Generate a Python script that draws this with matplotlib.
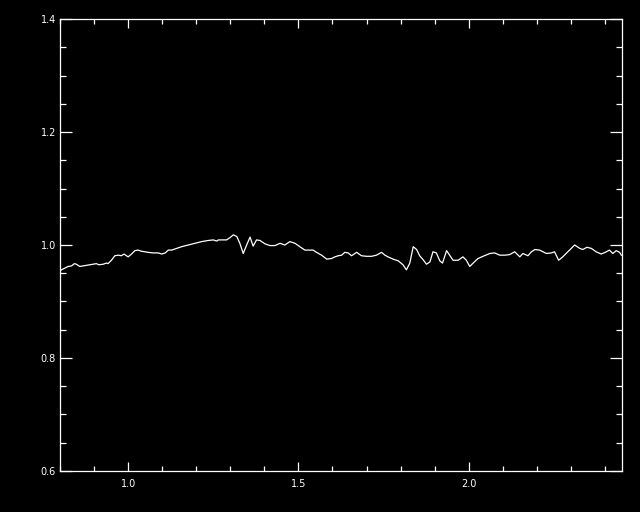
import matplotlib
matplotlib.use("Agg")
import matplotlib.pyplot as plt
from matplotlib.ticker import MultipleLocator

wavelength = [0.800, 0.804, 0.814, 0.824, 0.834, 0.842, 0.848, 0.858, 0.868, 0.888,
              0.907, 0.914, 0.927, 0.936, 0.941, 0.951, 0.961, 0.971, 0.980, 0.988,
              1.000, 1.010, 1.020, 1.029, 1.039, 1.049, 1.059, 1.073, 1.088, 1.099,
              1.109, 1.118, 1.128, 1.138, 1.148, 1.157, 1.177, 1.196, 1.216, 1.235,
              1.250, 1.260, 1.265, 1.275, 1.289, 1.299, 1.309, 1.319, 1.328, 1.338,
              1.348, 1.358, 1.367, 1.377, 1.387, 1.402, 1.416, 1.431, 1.446, 1.460,
              1.475, 1.490, 1.504, 1.519, 1.543, 1.553, 1.568, 1.583, 1.597, 1.607,
              1.617, 1.627, 1.636, 1.646, 1.656, 1.671, 1.685, 1.700, 1.715, 1.729,
              1.744, 1.754, 1.763, 1.778, 1.793, 1.807, 1.817, 1.827, 1.837, 1.847,
              1.856, 1.866, 1.876, 1.886, 1.895, 1.905, 1.915, 1.923, 1.935, 1.944,
              1.954, 1.969, 1.983, 1.993, 2.003, 2.013, 2.027, 2.042, 2.062, 2.076,
              2.091, 2.106, 2.120, 2.135, 2.150, 2.159, 2.174, 2.184, 2.194, 2.208,
              2.228, 2.243, 2.252, 2.264, 2.276, 2.291, 2.311, 2.326, 2.335, 2.347,
              2.360, 2.374, 2.389, 2.404, 2.413, 2.423, 2.433, 2.443, 2.448]

ratio = [0.954, 0.956, 0.959, 0.962, 0.963, 0.967, 0.966, 0.962, 0.963, 0.965,
         0.967, 0.965, 0.966, 0.968, 0.967, 0.973, 0.981, 0.982, 0.981, 0.984,
         0.979, 0.984, 0.990, 0.991, 0.989, 0.988, 0.987, 0.986, 0.986, 0.984,
         0.986, 0.991, 0.991, 0.993, 0.995, 0.997, 1.000, 1.003, 1.006, 1.008,
         1.009, 1.007, 1.009, 1.009, 1.009, 1.013, 1.018, 1.015, 1.003, 0.985,
         1.000, 1.014, 0.998, 1.009, 1.008, 1.002, 0.999, 0.999, 1.003, 1.000,
         1.006, 1.003, 0.997, 0.991, 0.991, 0.987, 0.982, 0.975, 0.976, 0.979,
         0.981, 0.982, 0.987, 0.986, 0.981, 0.987, 0.981, 0.980, 0.980, 0.982,
         0.987, 0.982, 0.979, 0.975, 0.972, 0.965, 0.956, 0.968, 0.997, 0.992,
         0.981, 0.974, 0.966, 0.970, 0.988, 0.986, 0.972, 0.968, 0.990, 0.982,
         0.973, 0.973, 0.979, 0.973, 0.962, 0.968, 0.976, 0.980, 0.985, 0.986,
         0.982, 0.982, 0.983, 0.988, 0.979, 0.985, 0.981, 0.988, 0.992, 0.991,
         0.985, 0.986, 0.988, 0.973, 0.979, 0.988, 1.000, 0.994, 0.992, 0.996,
         0.994, 0.988, 0.984, 0.988, 0.991, 0.985, 0.990, 0.987, 0.982]

x_range = (0.8, 2.45)
y_range = (0.6, 1.4)
x_major, x_minor = 0.5, 0.1
y_major, y_minor = 0.2, 0.05

fig = plt.figure(figsize=(6.4, 5.12), dpi=100, facecolor="black")
ax = fig.add_axes([60 / 640, 41 / 512, 562 / 640, 452 / 512], facecolor="black")

ax.plot(wavelength, ratio, color="white", linewidth=0.9)

ax.set_xlim(*x_range)
ax.set_ylim(*y_range)
ax.xaxis.set_major_locator(MultipleLocator(x_major))
ax.xaxis.set_minor_locator(MultipleLocator(x_minor))
ax.yaxis.set_major_locator(MultipleLocator(y_major))
ax.yaxis.set_minor_locator(MultipleLocator(y_minor))
ax.xaxis.set_major_formatter(plt.FormatStrFormatter("%.1f"))
ax.yaxis.set_major_formatter(plt.FormatStrFormatter("%.1f"))

for s in ax.spines.values():
    s.set_color("white")
    s.set_linewidth(0.9)

ax.tick_params(axis="both", which="both", direction="in", colors="white",
               top=True, right=True, width=0.9, labelsize=7)
ax.tick_params(axis="x", which="major", length=6.5, pad=6)
ax.tick_params(axis="x", which="minor", length=3.6)
ax.tick_params(axis="y", which="major", length=8.6, pad=3)
ax.tick_params(axis="y", which="minor", length=4.3)

fig.savefig("out.png", dpi=100, facecolor="black")
